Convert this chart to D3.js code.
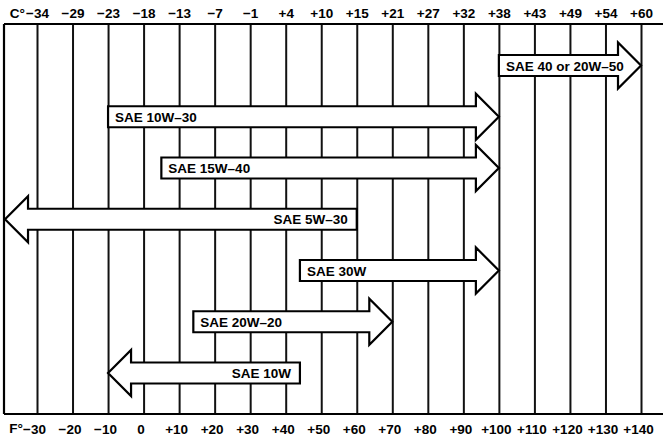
<!DOCTYPE html>
<html>
<head>
<meta charset="utf-8">
<script src="https://cdn.jsdelivr.net/npm/d3@7"></script>
<style>
  body { margin: 0; background: #fff; }
  svg text { font-family: "Liberation Sans", Arial, sans-serif; font-weight: bold; }
</style>
</head>
<body>
<div class="canvas"></div>
<script>
// temperature lines, Fahrenheit with the Celsius label printed above each one
const fahrenheit = [-30, -20, -10, 0, 10, 20, 30, 40, 50, 60, 70, 80, 90, 100, 110, 120, 130, 140];
const fLabels = ['−30', '−20', '−10', '0', '+10', '+20', '+30', '+40', '+50', '+60', '+70', '+80', '+90', '+100', '+110', '+120', '+130', '+140'];
const cLabels = ['−34', '−29', '−23', '−18', '−13', '−7', '−1', '+4', '+10', '+15', '+21', '+27', '+32', '+38', '+43', '+49', '+54', '+60'];

// oil grades and the range (deg F) each one covers
const oils = ['SAE 40 or 20W–50', 'SAE 10W–30', 'SAE 15W–40', 'SAE 5W–30', 'SAE 30W', 'SAE 20W–20', 'SAE 10W'];
const lowF = [100, -10, 5, -39, 44, 14, -10];
const highF = [140, 100, 100, 60, 100, 70, 44];
const pointsTo = ['right', 'right', 'right', 'left', 'right', 'right', 'left'];

const dims = { width: 663, height: 437, top: 24, bottom: 414, left: 4 };
const fontSize = 13.5;

const svg = d3.select('.canvas')
    .append('svg')
    .attr('width', dims.width)
    .attr('height', dims.height);

const x = d3.scaleLinear()
    .domain([-30, 140])
    .range([37, 641]);

const y = d3.scalePoint()
    .domain(oils)
    .range([65.5, 373]);

// grid + celsius labels on top
const topAxis = d3.axisTop(x)
    .tickValues(fahrenheit)
    .tickFormat((d, i) => cLabels[i])
    .tickSizeInner(-(dims.bottom - dims.top))
    .tickSizeOuter(0)
    .tickPadding(6);

const topG = svg.append('g')
    .attr('transform', `translate(0, ${dims.top})`)
    .call(topAxis);
topG.select('.domain').remove();
topG.selectAll('line').attr('stroke', '#111').attr('stroke-width', 2);
topG.selectAll('text').attr('fill', '#000').attr('font-size', fontSize);

// fahrenheit labels at the bottom
const bottomAxis = d3.axisBottom(x)
    .tickValues(fahrenheit)
    .tickFormat((d, i) => fLabels[i])
    .tickSize(0)
    .tickPadding(10);

const bottomG = svg.append('g')
    .attr('transform', `translate(0, ${dims.bottom})`)
    .call(bottomAxis);
bottomG.select('.domain').remove();
bottomG.selectAll('text').attr('fill', '#000').attr('font-size', fontSize).attr('dx', -3);

// unit prefixes
svg.append('text')
    .attr('x', x(-30) - 12).attr('y', dims.top - 6)
    .attr('text-anchor', 'end').attr('font-size', fontSize)
    .text('C°');
svg.append('text')
    .attr('x', x(-30) - 14).attr('y', dims.bottom + 19)
    .attr('text-anchor', 'end').attr('font-size', fontSize)
    .text('F°');

// frame
const frame = svg.append('g').attr('stroke', '#000').attr('stroke-width', 2.2);
frame.append('line').attr('x1', dims.left).attr('x2', dims.width).attr('y1', dims.top).attr('y2', dims.top);
frame.append('line').attr('x1', dims.left).attr('x2', dims.width).attr('y1', dims.bottom).attr('y2', dims.bottom);
frame.append('line').attr('x1', dims.left).attr('x2', dims.left).attr('y1', dims.top).attr('y2', dims.bottom);

// arrow shape
const hb = 10.5, hh = 23, hl = 23;
const arrowPath = (d) => {
    const cy = y(d.name);
    const a = x(d.low), b = x(d.high);
    if (d.dir === 'right') {
        return `M${a},${cy - hb}L${b - hl},${cy - hb}L${b - hl},${cy - hh}L${b},${cy}` +
               `L${b - hl},${cy + hh}L${b - hl},${cy + hb}L${a},${cy + hb}Z`;
    }
    return `M${b},${cy - hb}L${a + hl},${cy - hb}L${a + hl},${cy - hh}L${a},${cy}` +
           `L${a + hl},${cy + hh}L${a + hl},${cy + hb}L${b},${cy + hb}Z`;
};

const rows = oils.map((name, i) => ({ name, low: lowF[i], high: highF[i], dir: pointsTo[i] }));

const arrows = svg.append('g')
    .selectAll('g')
    .data(rows)
    .enter()
    .append('g');

arrows.append('path')
    .attr('d', arrowPath)
    .attr('fill', '#fff')
    .attr('stroke', '#000')
    .attr('stroke-width', 2.2)
    .attr('stroke-linejoin', 'miter');

arrows.append('text')
    .attr('x', d => d.dir === 'right' ? x(d.low) + 7 : x(d.high) - 9)
    .attr('y', d => y(d.name) + 5)
    .attr('text-anchor', d => d.dir === 'right' ? 'start' : 'end')
    .attr('font-size', fontSize)
    .text(d => d.name);
</script>
</body>
</html>
